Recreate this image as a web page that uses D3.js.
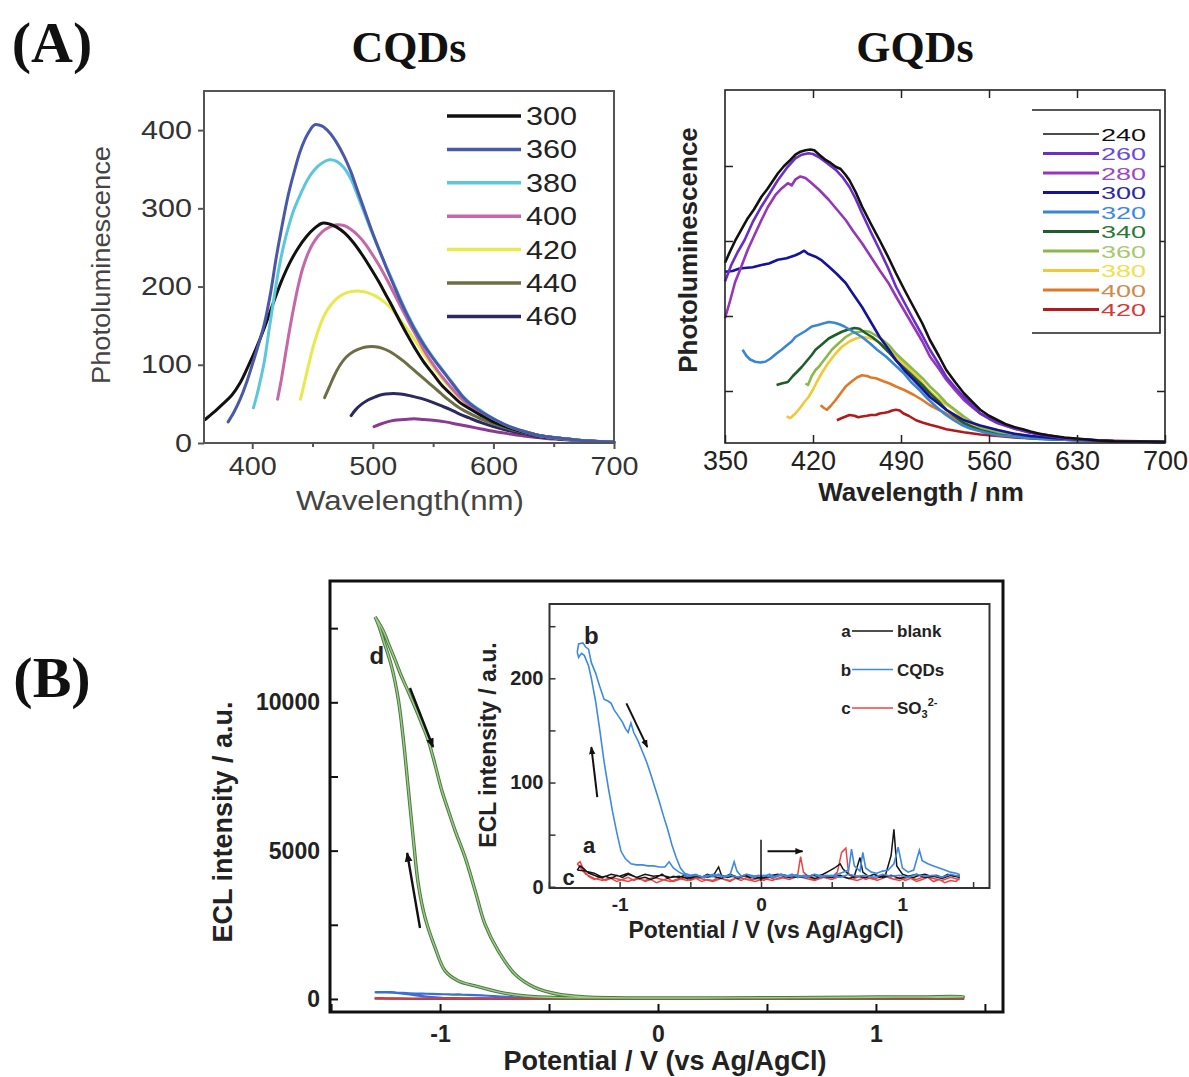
<!DOCTYPE html>
<html><head><meta charset="utf-8">
<script src="https://cdn.jsdelivr.net/npm/d3@7"></script>
<style>body{margin:0;background:#fff}svg{display:block}</style>
</head><body>
<svg id="c" width="1189" height="1077"></svg>
<script>
// ---------------- DATA ----------------
// Panel A left: CQDs PL spectra, [wavelength nm, PL]
const cqdLabels = ["300","360","380","400","420","440","460"];
const cqdColors = ["#111111","#4a58a8","#5cc6da","#c468a8","#e6ea4e","#6e6e46","#2a2a5e","#8a3a92"];
const cqd300 = [[361,30],[368,39],[375,49],[383,61],[390,77],[396,96],[403,120],[410,147],[417,177],[424,206],[431,230],[438,249],[445,264],[452,275],[458,281],[464,280],[470,276],[477,268],[484,256],[491,241],[498,224],[505,206],[511,189],[517,172],[523,154],[529,137],[535,121],[542,104],[550,88],[557,74],[565,62],[572,52],[580,44],[590,35],[600,27],[612,20],[625,14],[637,10],[650,7],[662,5],[675,3],[688,2],[700,1]];
const cqd360 = [[380,27],[385,40],[390,56],[395,76],[400,100],[405,125],[410,152],[415,190],[420,238],[425,280],[430,318],[435,348],[440,374],[446,395],[452,407],[458,405],[464,397],[470,384],[476,367],[482,346],[487,324],[493,298],[499,272],[505,248],[511,225],[517,203],[522,185],[528,165],[534,147],[540,131],[546,117],[552,104],[557,94],[563,82],[569,70],[574,60],[580,51],[590,40],[600,31],[612,22],[625,15],[637,10],[650,7],[662,5],[675,3],[688,2],[700,1]];
const cqd380 = [[401,45],[404,62],[407,82],[410,104],[414,145],[418,185],[422,222],[426,252],[430,276],[435,300],[440,318],[446,337],[452,350],[458,358],[464,362],[470,360],[476,352],[482,337],[487,318],[493,294],[499,270],[505,248],[511,226],[517,205],[522,187],[528,167],[534,149],[540,133],[546,118],[552,105],[557,95],[563,83],[569,71],[574,61],[580,52],[590,41],[600,31],[612,22],[625,15],[637,10],[650,7],[662,5],[675,3],[688,2],[700,1]];
const cqd400 = [[421,56],[424,80],[427,108],[430,136],[434,170],[438,200],[442,224],[447,245],[452,259],[458,270],[464,276],[470,279],[476,278],[482,273],[488,265],[494,254],[500,240],[506,225],[512,208],[518,190],[524,172],[530,154],[536,137],[542,120],[548,105],[554,92],[560,80],[566,69],[572,59],[580,48],[590,38],[600,30],[612,21],[625,15],[637,10],[650,7],[662,5],[675,3],[688,2],[700,1]];
const cqd420 = [[440,56],[443,75],[446,95],[450,120],[455,145],[460,164],[466,178],[472,187],[478,192],[484,194],[490,194],[496,192],[502,188],[508,182],[514,174],[520,163],[526,151],[532,138],[538,124],[544,110],[550,97],[556,85],[562,74],[568,64],[574,55],[582,45],[590,37],[600,29],[612,21],[625,15],[637,10],[650,7],[662,5],[675,3],[688,2],[700,1]];
const cqd440 = [[460,58],[464,72],[468,86],[473,100],[478,110],[484,117],[490,121],[496,123],[502,123],[508,121],[514,117],[520,111],[526,104],[532,96],[538,88],[544,80],[550,72],[556,64],[562,56],[568,49],[575,42],[584,35],[594,28],[605,22],[616,17],[628,12],[640,9],[652,6],[665,4],[680,2],[700,1]];
const cqd460 = [[482,35],[486,43],[491,50],[496,55],[502,59],[508,62],[514,63],[520,63],[526,62],[532,60],[540,57],[548,53],[556,48],[564,43],[572,37],[580,32],[590,26],[600,21],[612,16],[625,12],[637,8],[650,6],[662,4],[675,3],[688,2],[700,1]];
const cqd480 = [[501,21],[506,24],[512,27],[518,29],[526,30],[534,31],[542,30],[550,29],[560,27],[570,24],[580,21],[590,18],[600,15],[612,12],[625,9],[637,7],[650,5],[662,4],[675,3],[688,2],[700,1]];
const cqdXTicks = [400,500,600,700];
const cqdYTicks = [0,100,200,300,400];

// Panel A right: GQDs PL spectra, [wavelength nm, PL (a.u.)]
const gqdLabels = ["240","260","280","300","320","340","360","380","400","420"];
const gqdColors = ["#111111","#6b2fc8","#9636b8","#14149a","#3a86d0","#1f5e2a","#8cb84a","#f2c838","#e07828","#b01c1c"];
const gqdTextColors = ["#111111","#6a4ad8","#9a48c8","#2a2aa0","#3a88e8","#2a7a36","#a8c870","#efe050","#d08a50","#d83838"];
const gqd240 = [[350,2.71],[354,2.86],[358,3.0],[363,3.15],[368,3.3],[373,3.42],[379,3.59],[384,3.7],[388,3.8],[392,3.9],[397,4.0],[402,4.08],[406,4.15],[410,4.19],[414,4.21],[418,4.22],[421,4.21],[425,4.15],[430,4.08],[434,4.04],[438,3.99],[442,3.96],[446,3.88],[449,3.81],[454,3.65],[459,3.46],[466,3.23],[473,3.01],[480,2.78],[486,2.57],[493,2.34],[500,2.12],[507,1.9],[513,1.68],[520,1.47],[526,1.28],[533,1.12],[540,0.97],[547,0.85],[553,0.75],[560,0.67],[567,0.61],[573,0.56],[580,0.52],[587,0.49],[593,0.46],[600,0.43],[607,0.41],[620,0.38],[634,0.36],[647,0.34],[660,0.33],[680,0.325],[700,0.32]];
const gqd260 = [[350,2.46],[355,2.68],[360,2.85],[365.5,3.01],[372,3.25],[379,3.46],[385,3.62],[392,3.81],[399,3.97],[406,4.1],[411,4.15],[416.5,4.17],[420,4.16],[424.5,4.12],[431,4.04],[438,3.95],[444,3.84],[449,3.72],[454,3.56],[459,3.37],[466,3.12],[473,2.88],[480,2.63],[486,2.39],[493,2.17],[500,1.95],[507,1.74],[513,1.55],[520,1.36],[526,1.19],[533,1.05],[540,0.92],[547,0.8],[553,0.7],[560,0.63],[567,0.57],[580,0.5],[593,0.44],[607,0.4],[620,0.37],[640,0.35],[660,0.33],[700,0.32]];
const gqd280 = [[350,1.97],[354,2.2],[358,2.45],[363,2.66],[368,2.88],[374,3.1],[379,3.28],[384,3.45],[390,3.61],[395,3.7],[400,3.77],[403,3.74],[406,3.82],[410,3.86],[414,3.84],[419,3.77],[425,3.68],[432.5,3.55],[439,3.42],[446,3.28],[452,3.13],[459,2.97],[466,2.79],[473,2.61],[480,2.44],[486,2.26],[493,2.06],[500,1.86],[507,1.66],[513,1.46],[520,1.3],[526,1.15],[533,1.01],[540,0.88],[547,0.78],[553,0.7],[567,0.58],[580,0.5],[593,0.45],[607,0.41],[620,0.37],[640,0.35],[660,0.33],[700,0.32]];
const gqd300 = [[350,2.59],[356,2.6],[361,2.63],[365.5,2.64],[372,2.65],[379,2.68],[385,2.7],[392,2.75],[399,2.77],[406,2.81],[410,2.84],[413,2.87],[416,2.83],[422,2.79],[427,2.74],[432.5,2.66],[439,2.56],[446,2.44],[452,2.29],[459,2.12],[466,1.92],[473,1.72],[480,1.56],[486,1.41],[493,1.27],[500,1.15],[507,1.03],[513,0.92],[520,0.83],[526,0.75],[533,0.68],[540,0.61],[553,0.54],[567,0.48],[580,0.43],[593,0.4],[613,0.37],[634,0.35],[660,0.33],[700,0.32]];
const gqd320 = [[364,1.55],[367,1.47],[370,1.42],[374,1.39],[378,1.38],[382,1.39],[386,1.43],[391,1.5],[395,1.55],[400,1.62],[403,1.66],[406,1.72],[410,1.76],[414,1.8],[419,1.86],[424,1.88],[428,1.9],[432.5,1.92],[437,1.91],[441,1.89],[445,1.86],[449,1.82],[454,1.77],[459,1.72],[465,1.64],[471,1.55],[478,1.46],[485,1.35],[492,1.24],[498,1.12],[505,1.01],[511,0.9],[518,0.79],[525,0.69],[532,0.61],[538,0.55],[545,0.5],[556,0.45],[567,0.41],[580,0.39],[593,0.37],[620,0.35],[647,0.33],[700,0.32]];
const gqd340 = [[391,1.08],[395,1.1],[400,1.12],[404,1.2],[407,1.25],[411,1.32],[415,1.4],[419,1.48],[422,1.55],[427,1.62],[432.5,1.7],[437,1.74],[443,1.79],[448,1.82],[453,1.84],[457,1.83],[462,1.77],[467,1.72],[473,1.64],[480,1.52],[486,1.41],[493,1.3],[500,1.19],[507,1.08],[513,0.97],[520,0.86],[526,0.75],[533,0.66],[540,0.57],[547,0.52],[553,0.48],[567,0.42],[580,0.39],[600,0.36],[620,0.35],[660,0.33],[700,0.32]];
const gqd360 = [[414,1.1],[416,1.08],[419,1.2],[422,1.28],[424.5,1.32],[430,1.44],[435,1.55],[440,1.63],[446,1.72],[451,1.77],[457,1.79],[461,1.8],[465,1.79],[470,1.74],[475.5,1.68],[481,1.6],[486,1.5],[493,1.39],[500,1.28],[507,1.17],[513,1.06],[520,0.95],[526,0.84],[533,0.75],[540,0.66],[547,0.58],[553,0.52],[567,0.45],[580,0.41],[600,0.37],[620,0.35],[660,0.33],[700,0.32]];
const gqd380 = [[399,0.66],[402,0.64],[406,0.7],[410,0.78],[413,0.85],[416.5,0.92],[420,1.02],[423,1.12],[427,1.24],[432,1.37],[438,1.5],[443,1.59],[449,1.66],[454,1.7],[459,1.72],[464,1.71],[470,1.68],[475,1.62],[481,1.55],[486,1.46],[492,1.37],[498,1.26],[505,1.15],[511,1.03],[518,0.92],[525,0.83],[532,0.75],[538,0.66],[545,0.57],[556,0.5],[567,0.46],[580,0.42],[593,0.39],[620,0.36],[660,0.33],[700,0.32]];
const gqd400 = [[426,0.81],[429,0.77],[431,0.75],[434,0.8],[438,0.88],[442,0.97],[446,1.06],[451,1.13],[455,1.18],[459,1.21],[463,1.2],[466,1.18],[470,1.17],[476,1.13],[481,1.1],[486,1.06],[493,1.01],[500,0.95],[507,0.88],[513,0.81],[520,0.75],[526,0.7],[533,0.63],[540,0.57],[553,0.51],[567,0.46],[580,0.43],[593,0.4],[613,0.37],[634,0.35],[660,0.33],[700,0.32]];
const gqd420 = [[439,0.61],[443,0.64],[446,0.66],[449,0.68],[453,0.67],[456,0.65],[459,0.66],[463,0.67],[466,0.68],[470,0.68],[473,0.7],[477,0.71],[480,0.72],[483,0.74],[486,0.75],[489,0.74],[492,0.7],[496,0.67],[499,0.64],[502,0.61],[507,0.58],[513,0.55],[520,0.52],[526,0.49],[533,0.47],[540,0.45],[553,0.42],[567,0.4],[580,0.38],[593,0.37],[620,0.35],[647,0.34],[680,0.33],[700,0.32]];
const gqdXTicks = [350,420,490,560,630,700];
const gqdYTicks = [1,2,3,4];

// Panel B: ECL vs potential, [V, intensity]
const eclBlank = [[-1.30,16],[-1.28,20],[-1.25,17],[-1.22,13],[-1.18,11],[-1.14,9],[-1.10,10],[-1.06,8],[-1.02,11],[-0.98,9],[-0.94,12],[-0.90,10],[-0.86,8],[-0.82,9],[-0.78,7],[-0.74,9],[-0.70,12],[-0.66,8],[-0.62,10],[-0.58,9],[-0.54,11],[-0.50,8],[-0.46,10],[-0.42,9],[-0.38,12],[-0.34,10],[-0.30,19],[-0.28,11],[-0.24,9],[-0.20,10],[-0.16,8],[-0.12,11],[-0.08,9],[-0.04,10],[0,8],[0.04,9],[0.08,11],[0.12,12],[0.16,10],[0.20,9],[0.24,11],[0.28,10],[0.32,9],[0.36,11],[0.40,10],[0.44,12],[0.48,15],[0.52,18],[0.56,22],[0.58,17],[0.62,12],[0.66,10],[0.70,28],[0.72,14],[0.76,10],[0.80,12],[0.84,9],[0.88,11],[0.92,30],[0.94,55],[0.96,20],[1.0,12],[1.04,10],[1.08,9],[1.12,11],[1.16,12],[1.20,10],[1.24,11],[1.28,9],[1.32,12],[1.36,10],[1.40,11],
  [1.40,9],[1.34,11],[1.28,8],[1.22,10],[1.16,9],[1.10,12],[1.04,10],[0.98,8],[0.92,11],[0.86,9],[0.80,12],[0.74,9],[0.68,10],[0.62,8],[0.56,11],[0.50,9],[0.44,10],[0.38,8],[0.32,11],[0.26,9],[0.20,10],[0.14,12],[0.08,9],[0.02,10],[-0.04,8],[-0.10,11],[-0.16,9],[-0.22,12],[-0.28,8],[-0.34,10],[-0.40,9],[-0.46,11],[-0.52,8],[-0.58,10],[-0.64,9],[-0.70,11],[-0.76,10],[-0.82,12],[-0.88,9],[-0.94,13],[-1.00,10],[-1.06,12],[-1.12,9],[-1.18,13],[-1.24,15],[-1.30,16]];
const eclCQDs = [[-1.30,225],[-1.29,233],[-1.26,234],[-1.24,230],[-1.22,228],[-1.20,215],[-1.17,205],[-1.14,192],[-1.11,180],[-1.08,178],[-1.06,176],[-1.04,170],[-1.01,164],[-0.98,158],[-0.96,152],[-0.94,148],[-0.92,157],[-0.90,148],[-0.87,140],[-0.84,130],[-0.81,120],[-0.78,108],[-0.75,95],[-0.72,82],[-0.69,68],[-0.66,55],[-0.63,40],[-0.60,28],[-0.57,18],[-0.54,13],[-0.50,11],[-0.46,12],[-0.42,9],[-0.38,11],[-0.34,10],[-0.30,12],[-0.26,9],[-0.22,11],[-0.19,24],[-0.17,15],[-0.14,10],[-0.10,12],[-0.06,9],[-0.02,11],[0.02,10],[0.06,12],[0.10,9],[0.14,11],[0.18,10],[0.22,12],[0.26,9],[0.30,11],[0.34,10],[0.38,12],[0.42,9],[0.46,11],[0.50,10],[0.54,12],[0.58,14],[0.62,16],[0.64,36],[0.66,20],[0.70,15],[0.72,33],[0.74,18],[0.78,14],[0.82,13],[0.86,15],[0.90,16],[0.94,22],[0.97,38],[1.00,18],[1.04,14],[1.08,16],[1.12,35],[1.14,25],[1.18,22],[1.22,20],[1.26,18],[1.30,16],[1.34,14],[1.38,13],[1.40,12],
  [1.40,10],[1.34,12],[1.28,9],[1.22,11],[1.16,10],[1.10,12],[1.04,9],[0.98,11],[0.92,10],[0.86,12],[0.80,9],[0.74,11],[0.68,10],[0.62,12],[0.56,9],[0.50,11],[0.44,10],[0.38,12],[0.32,9],[0.26,11],[0.20,10],[0.14,12],[0.08,9],[0.02,11],[-0.04,10],[-0.10,12],[-0.16,9],[-0.22,11],[-0.28,10],[-0.34,12],[-0.40,9],[-0.46,11],[-0.52,10],[-0.58,14],[-0.62,18],[-0.65,24],[-0.68,19],[-0.72,19],[-0.76,20],[-0.80,20],[-0.84,21],[-0.88,21],[-0.92,22],[-0.96,27],[-0.99,34],[-1.02,52],[-1.05,72],[-1.08,95],[-1.11,120],[-1.14,150],[-1.17,178],[-1.20,200],[-1.22,212],[-1.25,222],[-1.27,224],[-1.29,220],[-1.30,225]];
const eclSO3 = [[-1.30,22],[-1.28,24],[-1.25,15],[-1.22,10],[-1.18,7],[-1.14,9],[-1.10,6],[-1.06,8],[-1.02,5],[-0.98,7],[-0.94,9],[-0.90,6],[-0.86,8],[-0.82,5],[-0.78,7],[-0.74,4],[-0.70,6],[-0.66,8],[-0.62,5],[-0.58,7],[-0.54,9],[-0.50,6],[-0.46,8],[-0.42,5],[-0.38,7],[-0.34,6],[-0.30,9],[-0.26,7],[-0.22,5],[-0.18,8],[-0.14,6],[-0.10,9],[-0.06,7],[-0.02,8],[0.02,6],[0.06,9],[0.10,7],[0.14,8],[0.18,10],[0.22,8],[0.26,12],[0.28,29],[0.30,14],[0.34,9],[0.38,7],[0.42,8],[0.46,10],[0.50,9],[0.54,14],[0.57,33],[0.60,37],[0.62,12],[0.66,8],[0.70,10],[0.74,7],[0.78,9],[0.82,6],[0.86,8],[0.90,10],[0.94,7],[0.98,9],[1.02,6],[1.06,8],[1.10,5],[1.14,7],[1.18,9],[1.22,5],[1.26,7],[1.30,4],[1.34,6],[1.38,5],[1.40,8],
  [1.40,7],[1.34,9],[1.28,6],[1.22,8],[1.16,10],[1.10,7],[1.04,9],[0.98,6],[0.92,8],[0.86,11],[0.80,7],[0.74,9],[0.68,6],[0.62,8],[0.56,10],[0.50,7],[0.44,9],[0.38,6],[0.32,8],[0.26,10],[0.20,7],[0.14,9],[0.08,6],[0.02,8],[-0.04,5],[-0.10,7],[-0.16,9],[-0.22,6],[-0.28,8],[-0.34,5],[-0.40,7],[-0.46,9],[-0.52,6],[-0.58,8],[-0.64,5],[-0.70,7],[-0.76,9],[-0.82,6],[-0.88,8],[-0.94,5],[-1.00,7],[-1.06,9],[-1.12,6],[-1.18,8],[-1.24,12],[-1.30,22]];
const eclD = [[-1.298,12880],[-1.26,12400],[-1.237,11980],[-1.206,11420],[-1.176,10855],[-1.145,10350],[-1.115,9840],[-1.085,9300],[-1.054,8715],[-1.023,7900],[-0.992,7027],[-0.961,6330],[-0.931,5676],[-0.885,4774],[-0.839,3649],[-0.794,2523],[-0.733,1622],[-0.656,834],[-0.564,382],[-0.457,158],[-0.335,68],[-0.2,40],[0,30],[0.3,35],[0.6,45],[0.9,60],[1.2,70],[1.4,75],
  [1.4,72],[1.1,62],[0.8,50],[0.5,40],[0.2,32],[-0.1,30],[-0.3,36],[-0.459,44],[-0.61,101],[-0.717,213],[-0.839,439],[-0.916,608],[-0.977,946],[-1.023,1733],[-1.069,2747],[-1.1,3875],[-1.122,5338],[-1.145,7027],[-1.168,8716],[-1.191,10068],[-1.222,11193],[-1.26,12095],[-1.28,12560],[-1.298,12880]];
const mainXTicks = [-1.5,-1,-0.5,0,0.5,1,1.5];
const mainYTicks = [0,2500,5000,7500,10000,12500];
const insetXTicks = [-1.5,-1,-0.5,0,0.5,1,1.5];
const insetYTicks = [0,50,100,150,200,250];
const insetLegend = ["blank","CQDs","SO3"];
const insetLetters = ["a","b","c"];

// ---------------- DRAW ----------------
const SANS = "'Liberation Sans', Arial, Helvetica, sans-serif";
const SERIF = "'Liberation Serif', 'Times New Roman', serif";
const svg = d3.select("#c");
svg.append("rect").attr("width",1189).attr("height",1077).attr("fill","#fff");

function txt(x,y,s,size,opt={}){
  const t = svg.append("text").attr("x",x).attr("y",y).text(s)
    .attr("font-family",opt.family||SANS).attr("font-size",size)
    .attr("font-weight",opt.weight||"normal").attr("fill",opt.fill||"#111")
    .attr("text-anchor",opt.anchor||"middle");
  if(opt.rotate) t.attr("transform",`rotate(${opt.rotate},${x},${y})`);
  if(opt.len) t.attr("textLength",opt.len).attr("lengthAdjust","spacingAndGlyphs");
  return t;
}
function styleAxis(g,size,weight,fill,stroke,sw){
  g.attr("font-size",size).attr("font-family",SANS).attr("font-weight",weight);
  g.selectAll("text").attr("fill",fill);
  g.selectAll("line").attr("stroke",stroke).attr("stroke-width",sw);
  g.select(".domain").remove();
  return g;
}
function widen(g,perChar){
  g.selectAll("text").each(function(){
    const n = this.textContent.length;
    if(n) d3.select(this).attr("textLength",n*perChar).attr("lengthAdjust","spacingAndGlyphs");
  });
}

// Panel labels
txt(52,62,"(A)",58,{family:SERIF,weight:"bold"});
txt(52,697,"(B)",58,{family:SERIF,weight:"bold"});
txt(409,62,"CQDs",44,{family:SERIF,weight:"bold"});
txt(915,62,"GQDs",44,{family:SERIF,weight:"bold"});

// ---- CQDs panel ----
const xA = d3.scaleLinear().domain([360,700]).range([204,614]);
const yA = d3.scaleLinear().domain([0,450]).range([443,91]);
const cqdSeries = [cqd300,cqd360,cqd380,cqd400,cqd420,cqd440,cqd460,cqd480];
const lineA = d3.line().x(d=>xA(d[0])).y(d=>yA(d[1])).curve(d3.curveCatmullRom.alpha(0.5));
[7,6,5,4,3,0,2,1].forEach(i=>{
  svg.append("path").attr("d",lineA(cqdSeries[i])).attr("fill","none")
    .attr("stroke",cqdColors[i]).attr("stroke-width",3).attr("stroke-linecap","round");
});
svg.append("rect").attr("x",204).attr("y",91).attr("width",410).attr("height",352)
  .attr("fill","none").attr("stroke","#555").attr("stroke-width",2);
const axAy = styleAxis(svg.append("g").attr("transform","translate(204,0)")
  .call(d3.axisLeft(yA).tickValues(cqdYTicks).tickSize(6).tickPadding(6)),25,"normal","#333","#555",2);
widen(axAy,17);
const axAx = styleAxis(svg.append("g").attr("transform","translate(0,443)")
  .call(d3.axisBottom(xA).tickValues(cqdXTicks).tickSize(6).tickPadding(8)),25,"normal","#333","#555",2);
widen(axAx,16);
styleAxis(svg.append("g").attr("transform","translate(0,443)")
  .call(d3.axisBottom(xA).tickValues([450,550,650]).tickSize(4).tickFormat("")),10,"normal","#333","#555",2);
txt(110,265,"Photoluminescence",26,{rotate:-90,fill:"#444",len:238});
txt(410,510,"Wavelength(nm)",27,{fill:"#444",len:228});
// legend
cqdLabels.forEach((l,i)=>{
  const y = 116 + i*33.4;
  svg.append("line").attr("x1",447).attr("x2",521).attr("y1",y).attr("y2",y)
    .attr("stroke",cqdColors[i]).attr("stroke-width",3.5);
  txt(526,y+9,l,25,{anchor:"start",fill:"#222",len:51});
});

// ---- GQDs panel ----
const xB = d3.scaleLinear().domain([350,700]).range([725,1165]);
const yB = d3.scaleLinear().domain([0.3067,5.013]).range([443,90]);
const gqdSeries = [gqd240,gqd260,gqd280,gqd300,gqd320,gqd340,gqd360,gqd380,gqd400,gqd420];
const lineB = d3.line().x(d=>xB(d[0])).y(d=>yB(d[1]));
[9,8,7,6,5,4,3,2,1,0].forEach(i=>{
  svg.append("path").attr("d",lineB(gqdSeries[i])).attr("fill","none")
    .attr("stroke",gqdColors[i]).attr("stroke-width",2.6).attr("stroke-linejoin","round");
});
svg.append("rect").attr("x",725).attr("y",90).attr("width",440).attr("height",353)
  .attr("fill","none").attr("stroke","#222").attr("stroke-width",1.6);
styleAxis(svg.append("g").attr("transform","translate(0,443)")
  .call(d3.axisBottom(xB).tickValues(gqdXTicks).tickSize(-8).tickPadding(8)),27,"normal","#222","#222",1.5);
styleAxis(svg.append("g").attr("transform","translate(0,90)")
  .call(d3.axisTop(xB).tickValues(gqdXTicks.slice(1,5)).tickSize(-8).tickFormat("")),10,"normal","#222","#222",1.5);
styleAxis(svg.append("g").attr("transform","translate(725,0)")
  .call(d3.axisLeft(yB).tickValues(gqdYTicks).tickSize(-8).tickFormat("")),10,"normal","#222","#222",1.5);
styleAxis(svg.append("g").attr("transform","translate(1165,0)")
  .call(d3.axisRight(yB).tickValues(gqdYTicks).tickSize(-8).tickFormat("")),10,"normal","#222","#222",1.5);
txt(697,250,"Photoluminescence",26,{rotate:-90,weight:"bold",fill:"#222"});
txt(921,501,"Wavelength / nm",26,{weight:"bold",fill:"#222"});
// legend box
const lg = svg.append("g");
lg.append("rect").attr("x",1032).attr("y",110).attr("width",128).attr("height",223).attr("fill","#fff");
lg.append("path").attr("d","M1032,110H1160V333H1032").attr("fill","none").attr("stroke","#222").attr("stroke-width",1.6);
gqdLabels.forEach((l,i)=>{
  const y = 134 + i*19.5;
  lg.append("line").attr("x1",1043).attr("x2",1099).attr("y1",y).attr("y2",y)
    .attr("stroke",gqdColors[i]).attr("stroke-width",i===0?1.4:3);
  lg.append("text").attr("x",1101).attr("y",y+6.5).text(l)
    .attr("font-family",SANS).attr("font-size",17).attr("fill",gqdTextColors[i])
    .attr("textLength",45).attr("lengthAdjust","spacingAndGlyphs");
});

// ---- Panel B main ----
const xM = d3.scaleLinear().domain([-1.505,1.583]).range([330,1003]);
const yM = d3.scaleLinear().domain([-440,14090]).range([1012,581]);
const lineM = d3.line().x(d=>xM(d[0])).y(d=>yM(d[1]));
svg.append("path").attr("d",lineM(eclBlank)).attr("fill","none").attr("stroke","#222").attr("stroke-width",2);
svg.append("path").attr("d",lineM(eclCQDs)).attr("fill","none").attr("stroke","#3a6fd8").attr("stroke-width",2.2);
svg.append("path").attr("d",lineM(eclSO3)).attr("fill","none").attr("stroke","#e0353a").attr("stroke-width",2);
const lineMs = d3.line().x(d=>xM(d[0])).y(d=>yM(d[1])).curve(d3.curveCatmullRom.alpha(0.5));
svg.append("path").attr("d",lineMs(eclD)).attr("fill","none").attr("stroke","#4d7a42").attr("stroke-width",3.4).attr("stroke-linejoin","round");
svg.append("path").attr("d",lineMs(eclD)).attr("fill","none").attr("stroke","#9ccc88").attr("stroke-width",1.4).attr("stroke-linejoin","round");
svg.append("rect").attr("x",330).attr("y",581).attr("width",673).attr("height",431)
  .attr("fill","none").attr("stroke","#111").attr("stroke-width",3);
styleAxis(svg.append("g").attr("transform","translate(0,1012)")
  .call(d3.axisBottom(xM).tickValues(mainXTicks).tickSize(-8).tickPadding(14)
  .tickFormat(d=>Number.isInteger(d)?String(d):"")),23,"bold","#222","#111",2);
styleAxis(svg.append("g").attr("transform","translate(330,0)")
  .call(d3.axisLeft(yM).tickValues(mainYTicks).tickSize(-8).tickPadding(10)
  .tickFormat(d=>d%5000===0?String(d):"")),23,"bold","#222","#111",2);
txt(232,822,"ECL intensity / a.u.",27,{rotate:-90,weight:"bold",fill:"#222"});
txt(665,1070,"Potential / V (vs Ag/AgCl)",27,{weight:"bold",fill:"#222"});
txt(xM(-1.29),yM(11300),"d",24,{weight:"bold",fill:"#222"});

// arrows
const defs = svg.append("defs");
defs.append("marker").attr("id","ah").attr("viewBox","0 0 10 10").attr("refX",9).attr("refY",5)
  .attr("markerWidth",4).attr("markerHeight",4).attr("orient","auto")
  .append("path").attr("d","M0,1L10,5L0,9Z").attr("fill","#111");
function arrow(x1,y1,x2,y2,w){
  svg.append("line").attr("x1",x1).attr("y1",y1).attr("x2",x2).attr("y2",y2)
    .attr("stroke","#111").attr("stroke-width",w).attr("marker-end","url(#ah)");
}
arrow(xM(-1.138),yM(10482),xM(-1.032),yM(8493),2.4);
arrow(xM(-1.092),yM(2393),xM(-1.151),yM(4921),2.4);

// ---- Inset ----
const xI = d3.scaleLinear().domain([-1.496,1.616]).range([549.5,989.5]);
const yI = d3.scaleLinear().domain([-1.2,271.3]).range([888,604]);
svg.append("rect").attr("x",549.5).attr("y",604).attr("width",440).attr("height",284).attr("fill","#fff");
const lineI = d3.line().x(d=>xI(d[0])).y(d=>yI(d[1]));
svg.append("path").attr("d",lineI(eclSO3)).attr("fill","none").attr("stroke","#e84444").attr("stroke-width",1.5);
svg.append("path").attr("d",lineI(eclBlank)).attr("fill","none").attr("stroke","#151515").attr("stroke-width",1.5);
svg.append("path").attr("d",lineI(eclCQDs)).attr("fill","none").attr("stroke","#3d8ae0").attr("stroke-width",1.6);
svg.append("rect").attr("x",549.5).attr("y",604).attr("width",440).attr("height",284)
  .attr("fill","none").attr("stroke","#333").attr("stroke-width",2);
styleAxis(svg.append("g").attr("transform","translate(0,888)")
  .call(d3.axisBottom(xI).tickValues(insetXTicks).tickSize(-6).tickPadding(10)
  .tickFormat(d=>Number.isInteger(d)?String(d):"")),19,"bold","#222","#333",1.5);
styleAxis(svg.append("g").attr("transform","translate(549.5,0)")
  .call(d3.axisLeft(yI).tickValues(insetYTicks).tickSize(-6).tickPadding(6)
  .tickFormat(d=>d%100===0?String(d):"")),20,"bold","#222","#333",1.5);
txt(496,745,"ECL intensity / a.u.",23,{rotate:-90,weight:"bold",fill:"#222"});
txt(766,938,"Potential / V (vs Ag/AgCl)",23,{weight:"bold",fill:"#222"});
txt(xI(-1.2),yI(233),"b",24,{weight:"bold",fill:"#222"});
txt(xI(-1.215),yI(32),"a",22,{weight:"bold",fill:"#222"});
txt(xI(-1.36),yI(2),"c",22,{weight:"bold",fill:"#222"});
arrow(xI(-1.158),yI(86),xI(-1.2),yI(134),2);
arrow(xI(-0.952),yI(176),xI(-0.804),yI(134),2);
arrow(xI(0.046),yI(34),xI(0.294),yI(34),2);
svg.append("line").attr("x1",xI(0)).attr("x2",xI(0)).attr("y1",yI(45)).attr("y2",yI(5))
  .attr("stroke","#111").attr("stroke-width",1.5);
// inset legend
const legCol = ["#151515","#3d8ae0","#e84444"];
insetLetters.forEach((l,i)=>{
  const y = 631 + i*38.5;
  txt(846,y+6,l,17,{weight:"bold",fill:"#222"});
  svg.append("line").attr("x1",852).attr("x2",893).attr("y1",y).attr("y2",y).attr("stroke",legCol[i]).attr("stroke-width",1.5);
  if(i<2){
    txt(897,y+6,insetLegend[i],17,{anchor:"start",weight:"bold",fill:"#222"});
  } else {
    const t = txt(897,y+6,"",17,{anchor:"start",weight:"bold",fill:"#222"});
    t.append("tspan").text("SO");
    t.append("tspan").text("3").attr("font-size",11).attr("dy",4);
    t.append("tspan").text("2-").attr("font-size",11).attr("dy",-12);
  }
});
</script>
</body></html>
